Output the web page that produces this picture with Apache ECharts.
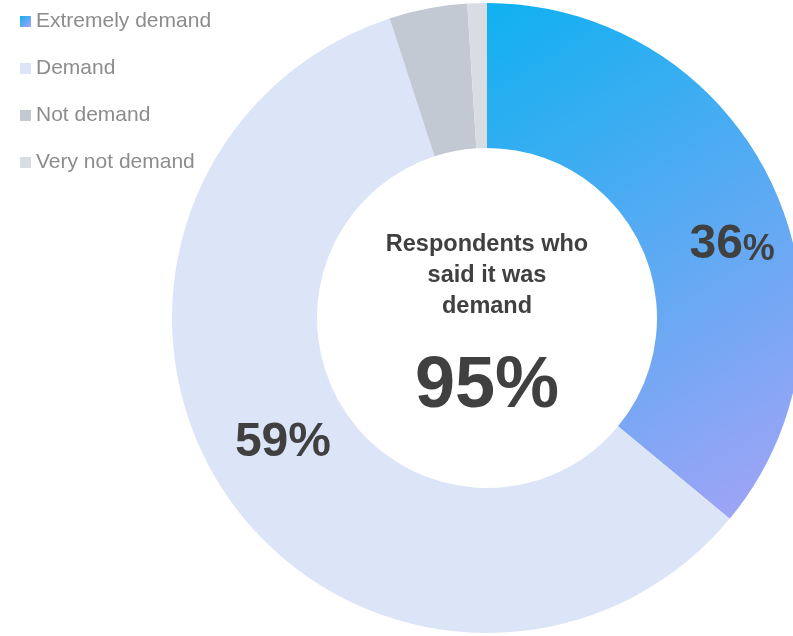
<!DOCTYPE html>
<html>
<head>
<meta charset="utf-8">
<script src="https://cdn.jsdelivr.net/npm/echarts@6/dist/echarts.min.js"></script>
<style>
  html, body { margin: 0; padding: 0; background: #fff; }
  #chart { width: 793px; height: 636px; }
</style>
</head>
<body>
<div id="chart"></div>
<script>
// data
var categories = ['Extremely demand', 'Demand', 'Not demand', 'Very not demand'];
var shares = [36, 59, 4, 1];
var centerTitle = 'Respondents who\nsaid it was\ndemand';
var centerValue = '95%';

document.addEventListener("DOMContentLoaded", function() {
    var dom = document.getElementById('chart');
    var chart = echarts.init(dom);

    var colors = [
        new echarts.graphic.LinearGradient(0, 0, 1, 1, [
            { offset: 0, color: '#0fb1f0' },
            { offset: 1, color: '#a7a3f6' }
        ]),
        '#dce4f8',
        '#c3c9d3',
        '#d8dce3'
    ];

    // label offsets from the default inside spot
    var labelShift = [[23, 31], [-1, -13]];

    var pieData = categories.map(function(name, i) {
        var item = { name: name, value: shares[i], itemStyle: { color: colors[i] } };
        if (i === 0) {
            item.label = { show: true, formatter: '{big|' + shares[i] + '}{pct|%}' };
        } else if (i === 1) {
            item.label = { show: true, formatter: '{big|' + shares[i] + '%}' };
        }
        return item;
    });

    var option = {
        animation: false,
        legend: {
            orient: 'vertical',
            left: 15,
            top: 6,
            itemWidth: 11,
            itemHeight: 11,
            itemGap: 26,
            icon: 'rect',
            textStyle: {
                fontFamily: 'Liberation Sans, Arial',
                fontSize: 21,
                color: '#8c8c8c',
                lineHeight: 21
            },
            data: categories
        },
        graphic: [
            {
                type: 'text',
                x: 487,
                y: 229,
                style: {
                    text: centerTitle,
                    align: 'center',
                    verticalAlign: 'top',
                    font: 'bold 23.5px "Liberation Sans", Arial',
                    lineHeight: 31,
                    fill: '#404040'
                },
                z: 10
            },
            {
                type: 'text',
                x: 487,
                y: 387,
                style: {
                    text: centerValue,
                    align: 'center',
                    verticalAlign: 'middle',
                    font: 'bold 72px "Liberation Sans", Arial',
                    fill: '#404040'
                },
                z: 10
            }
        ],
        series: [
            {
                name: 'Share of respondents',
                type: 'pie',
                center: [487, 318],
                radius: [170, 315],
                startAngle: 90,
                clockwise: true,
                avoidLabelOverlap: false,
                silent: true,
                label: {
                    show: false,
                    position: 'inside',
                    color: '#404040',
                    fontFamily: 'Liberation Sans, Arial',
                    fontWeight: 'bold',
                    rich: {
                        big: { fontSize: 48, fontWeight: 'bold', color: '#404040', fontFamily: 'Liberation Sans, Arial', verticalAlign: 'bottom' },
                        pct: { fontSize: 36, fontWeight: 'bold', color: '#404040', fontFamily: 'Liberation Sans, Arial', verticalAlign: 'bottom' }
                    }
                },
                labelLine: { show: false },
                labelLayout: function(params) {
                    var s = labelShift[params.dataIndex];
                    if (!s) return {};
                    return { dx: s[0], dy: s[1] };
                },
                data: pieData
            }
        ]
    };
    chart.setOption(option);

    window.addEventListener('resize', function() {
        chart.resize();
    });
});
</script>
</body>
</html>
